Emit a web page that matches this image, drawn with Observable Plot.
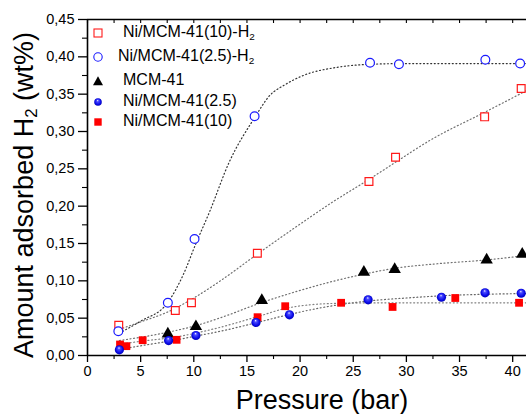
<!DOCTYPE html>
<html><head><meta charset="utf-8">
<script src="https://cdn.jsdelivr.net/npm/d3@7"></script>
<script src="https://cdn.jsdelivr.net/npm/@observablehq/plot@0.6"></script>
<style>
body{margin:0;background:#fff;}
#wrap{position:relative;width:526px;height:414px;overflow:hidden;font-family:"Liberation Sans",Arial,sans-serif;color:#000;}
.lbl{position:absolute;white-space:nowrap;line-height:1;}
.lbl sub{font-size:62%;vertical-align:-0.28em;line-height:0;}
.legrow{position:absolute;white-space:nowrap;font-size:16px;line-height:1;}
.legrow svg{position:absolute;}
</style></head><body>
<svg width="0" height="0" style="position:absolute">
  <defs>
    <radialGradient id="ballGrad" cx="50%" cy="50%" r="55%" fx="45%" fy="28%">
      <stop offset="0%" stop-color="#e8e8ff"/>
      <stop offset="25%" stop-color="#4a4aff"/>
      <stop offset="70%" stop-color="#0a0ae8"/>
      <stop offset="100%" stop-color="#0000a8"/>
    </radialGradient>
  </defs>
</svg>
<div id="wrap"></div>
<script>
// ---- series names
const seriesNames = ["Ni/MCM-41(10)-H2", "Ni/MCM-41(2.5)-H2", "MCM-41", "Ni/MCM-41(2.5)", "Ni/MCM-41(10)"];

// ---- measured points (pressure in bar, amount in wt%)
const ni10H2_p = [2.94, 8.26, 9.78, 15.98, 26.48, 28.98, 37.36, 40.8];
const ni10H2_v = [0.0406, 0.0603, 0.0706, 0.137, 0.233, 0.2656, 0.3196, 0.3576];

const ni25H2_p = [2.9, 7.56, 10.07, 15.72, 26.58, 29.3, 37.43, 40.7];
const ni25H2_v = [0.0325, 0.0706, 0.156, 0.3204, 0.392, 0.390, 0.396, 0.391];

const mcm_p = [7.56, 10.2, 16.4, 26.0, 28.9, 37.55, 40.9];
const mcm_v = [0.029, 0.0388, 0.0737, 0.1116, 0.1152, 0.128, 0.1357];

const ni25_p = [3.0, 7.63, 10.2, 15.85, 19.0, 26.4, 33.3, 37.4, 40.8];
const ni25_v = [0.0076, 0.020, 0.0268, 0.0442, 0.0545, 0.0746, 0.078, 0.084, 0.0834];

const ni10_p = [3.06, 3.66, 5.19, 8.38, 16.0, 18.6, 23.86, 28.7, 34.6, 40.6];
const ni10_v = [0.0147, 0.0125, 0.0205, 0.021, 0.0513, 0.066, 0.0706, 0.065, 0.077, 0.0706];

// ---- fitted curves
const fitNi10H2_p = [3, 5, 7.5, 10, 12.5, 16, 20, 23, 26.5, 29, 32.2, 37.4, 40.65, 41.3];
const fitNi10H2_v = [0.035, 0.045, 0.058, 0.077, 0.100, 0.136, 0.176, 0.205, 0.236, 0.259, 0.288, 0.326, 0.350, 0.355];

const fitNi25H2_p = [3, 5, 7.5, 9, 10.2, 11.5, 13.3, 15.7, 17.2, 18.5, 20.3, 23.5, 26.6, 30, 41.3];
const fitNi25H2_v = [0.030, 0.046, 0.070, 0.108, 0.150, 0.193, 0.258, 0.318, 0.349, 0.362, 0.375, 0.386, 0.390, 0.391, 0.391];

const fitMcm_p = [3, 7.5, 10.2, 13, 16, 19.5, 23, 26, 29, 33, 37.5, 41.3];
const fitMcm_v = [0.020, 0.031, 0.040, 0.053, 0.069, 0.085, 0.099, 0.109, 0.117, 0.123, 0.128, 0.134];

const fitNi25_p = [3, 5, 7.6, 10.2, 13, 15.9, 19, 22, 26.4, 30, 33.3, 37.4, 41.3];
const fitNi25_v = [0.008, 0.013, 0.019, 0.026, 0.034, 0.044, 0.055, 0.064, 0.073, 0.077, 0.080, 0.082, 0.083];

const fitNi10_p = [3, 5, 8.4, 12, 16, 18.6, 21, 24, 28, 41.3];
const fitNi10_v = [0.015, 0.019, 0.025, 0.036, 0.052, 0.063, 0.068, 0.070, 0.0705, 0.0705];

// ---- ticks
const xTicks = [0, 5, 10, 15, 20, 25, 30, 35, 40];
const xMinor = [2.5, 7.5, 12.5, 17.5, 22.5, 27.5, 32.5, 37.5];
const xTop = [0, 2.5, 5, 7.5, 10, 12.5, 15, 17.5, 20, 22.5, 25, 27.5, 30, 32.5, 35, 37.5, 40];
const yTicks = [0, 0.05, 0.10, 0.15, 0.20, 0.25, 0.30, 0.35, 0.40, 0.45];
const yTickLabels = ["0,00", "0,05", "0,10", "0,15", "0,20", "0,25", "0,30", "0,35", "0,40", "0,45"];
const yMinor = [0.025, 0.075, 0.125, 0.175, 0.225, 0.275, 0.325, 0.375, 0.425];

const rows = (ps, vs) => ps.map((p, i) => ({p, v: vs[i]}));

const W = 526, H = 414, mL = 87, mR = 0, mT = 19, mB = 59;
const dotted = {x: "p", y: "v", curve: "monotone-x", strokeWidth: 1.2, strokeDasharray: "1,2.6"};

const chart = Plot.plot({
  width: W, height: H,
  marginLeft: mL, marginRight: mR, marginTop: mT, marginBottom: mB,
  style: {fontFamily: "'Liberation Sans', Arial, sans-serif", fontSize: "14px", color: "#000", background: "#fff", overflow: "visible"},
  x: {domain: [0, 41.3]},
  y: {domain: [0, 0.45]},
  marks: [
    Plot.axisX({ticks: xTicks, tickSize: 7, tickPadding: 3, label: null, fontSize: 14.5, strokeWidth: 1.3}),
    Plot.axisX({ticks: xMinor, tickSize: 4, tickFormat: () => "", label: null, strokeWidth: 1.1}),
    Plot.tickX(xTop, {x: d => d, insetBottom: H - mT - mB - 4, stroke: "#000", strokeWidth: 1.1}),
    Plot.axisY({ticks: yTicks, tickSize: 9, tickPadding: 4, tickFormat: d => yTickLabels[yTicks.indexOf(d)], label: null, fontSize: 14.5, strokeWidth: 1.3}),
    Plot.axisY({ticks: yMinor, tickSize: 5, tickFormat: () => "", label: null, strokeWidth: 1.1}),
    Plot.ruleY([0], {strokeWidth: 1.6}),
    Plot.ruleX([0], {strokeWidth: 1.6}),
    Plot.ruleY([0.45], {strokeWidth: 1.6}),

    Plot.line(rows(fitNi10H2_p, fitNi10H2_v), {...dotted, stroke: "#707070"}),
    Plot.line(rows(fitNi25H2_p, fitNi25H2_v), {...dotted, stroke: "#333"}),
    Plot.line(rows(fitMcm_p, fitMcm_v), {...dotted, stroke: "#707070"}),
    Plot.line(rows(fitNi25_p, fitNi25_v), {...dotted, stroke: "#666"}),
    Plot.line(rows(fitNi10_p, fitNi10_v), {...dotted, stroke: "#808080"}),

    Plot.dot(rows(ni10H2_p, ni10H2_v), {x: "p", y: "v", symbol: "square", r: 4.4, fill: "white", stroke: "#ff1a1a", strokeWidth: 1.2}),
    Plot.dot(rows(ni25H2_p, ni25H2_v), {x: "p", y: "v", symbol: "circle", r: 4.4, fill: "white", stroke: "#1a1aff", strokeWidth: 1.2}),
    Plot.dot(rows(mcm_p, mcm_v), {x: "p", y: "v", symbol: "triangle", r: 4.6, fill: "#000", stroke: "none"}),
    Plot.dot(rows(ni10_p, ni10_v), {x: "p", y: "v", symbol: "square", r: 4.4, fill: "#ff0000", stroke: "none"}),
    Plot.dot(rows(ni25_p, ni25_v), {x: "p", y: "v", symbol: "circle", r: 4.6, fill: "url(#ballGrad)", stroke: "none"})
  ]
});

const wrap = document.getElementById("wrap");
wrap.appendChild(chart);

// axis titles
const ylab = document.createElement("div");
ylab.className = "lbl";
ylab.style.cssText = "left:24px;top:195px;font-size:27px;transform:translate(-50%,-50%) rotate(-90deg);";
ylab.innerHTML = "Amount adsorbed H<sub>2</sub> (wt%)";
wrap.appendChild(ylab);

const xlab = document.createElement("div");
xlab.className = "lbl";
xlab.style.cssText = "left:322px;top:400px;font-size:27px;transform:translate(-50%,-50%);";
xlab.textContent = "Pressure (bar)";
wrap.appendChild(xlab);

// legend
const legendSymbols = [
  '<rect x="2" y="2" width="8" height="8" fill="white" stroke="#ff1a1a" stroke-width="1.1"/>',
  '<circle cx="6" cy="6" r="4.2" fill="white" stroke="#1a1aff" stroke-width="1.1"/>',
  '<path d="M6,1.2 L11,10.2 L1,10.2 Z" fill="#000"/>',
  '<circle cx="6" cy="6" r="3.8" fill="url(#ballGrad)"/>',
  '<rect x="2.3" y="2.3" width="7.4" height="7.4" fill="#ff0000"/>'
];
const legendTop = [32.5, 57.3, 80.5, 101.7, 121.7];
const legendTextLeft = [123, 118, 123, 123, 123];
seriesNames.forEach((name, i) => {
  const row = document.createElement("div");
  row.className = "legrow";
  row.style.cssText = `left:92px;top:${legendTop[i] - 6}px;`;
  const label = name.endsWith("-H2") ? name.slice(0, -1) + "<sub style='font-size:62%;vertical-align:-0.3em;line-height:0'>2</sub>" : name;
  row.innerHTML = `<svg width="12" height="12" style="left:0;top:0">${legendSymbols[i]}</svg>` +
    `<span style="position:absolute;left:${legendTextLeft[i] - 92}px;top:${6 - 9}px;">${label}</span>`;
  wrap.appendChild(row);
});
</script>
</body></html>
